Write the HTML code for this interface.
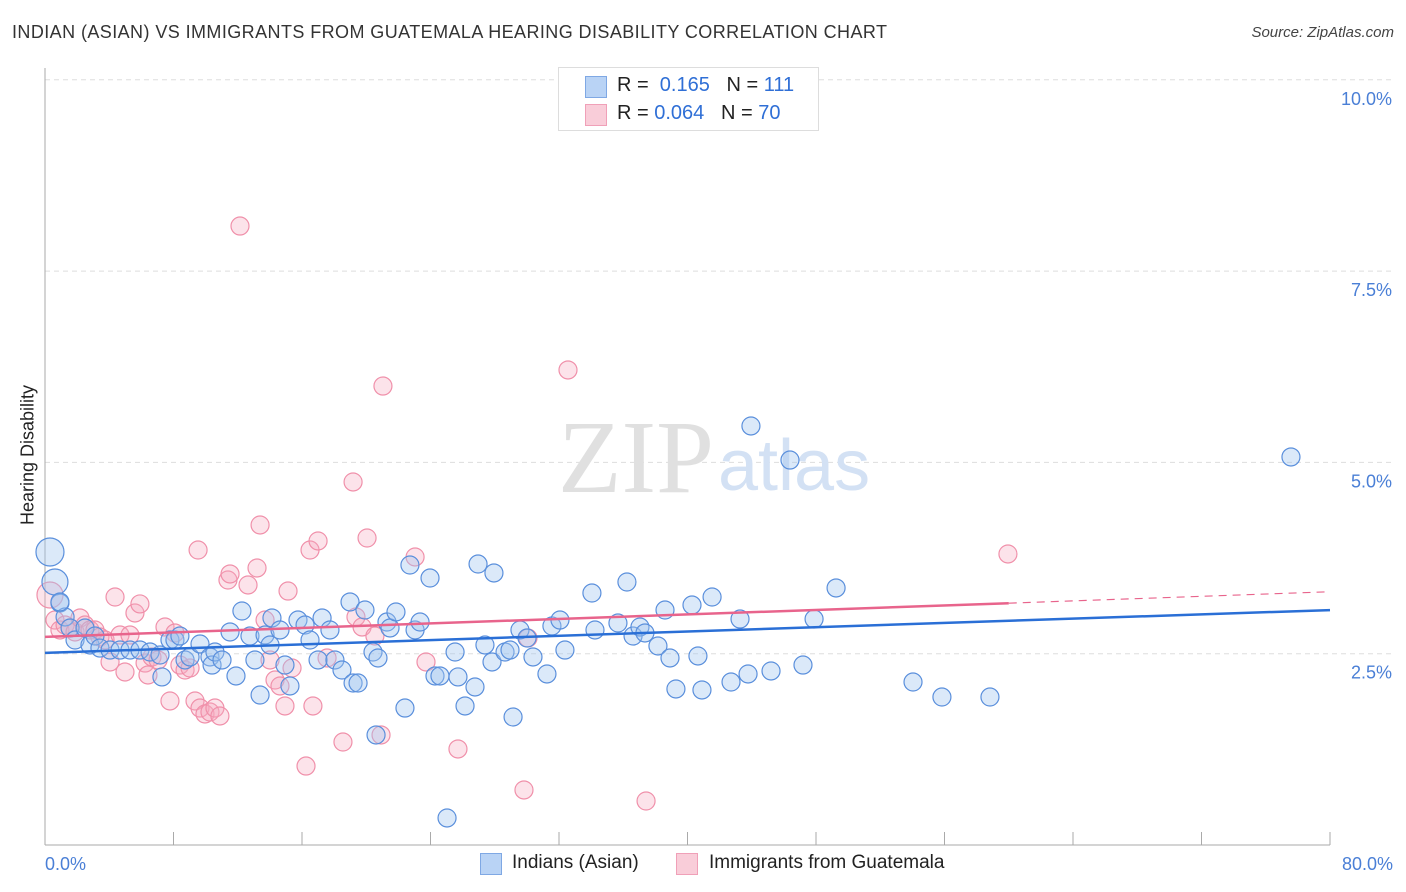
<!DOCTYPE html>
<html><head><meta charset="utf-8"><style>
body{margin:0;background:#fff;font-family:"Liberation Sans",sans-serif;}
#wrap{position:relative;width:1406px;height:892px;overflow:hidden;}
.t{position:absolute;white-space:nowrap;}
</style></head><body><div id="wrap">
<div class="t" style="left:12px;top:22px;font-size:18px;color:#333;letter-spacing:0.42px;">INDIAN (ASIAN) VS IMMIGRANTS FROM GUATEMALA HEARING DISABILITY CORRELATION CHART</div>
<div class="t" style="right:12px;top:24px;font-size:15px;color:#444;font-style:italic;">Source: ZipAtlas.com</div>
<svg id="plot" width="1406" height="892" style="position:absolute;left:0;top:0"></svg>
</div>
<script>
const xTicks=[0,80];
const yTicks=[2.5,5.0,7.5,10.0];
const bluePx=[[50,552,14],[55,582,13],[60,603],[65,617],[70,628],[75,640],[85,628],[90,645],[95,636],[100,648],[110,650],[120,650],[130,650],[140,650],[150,652],[160,655],[162,677],[170,640],[175,640],[180,636],[185,660],[190,657],[200,644],[210,657],[212,665],[215,652],[222,660],[230,632],[236,676],[242,611],[250,636],[255,660],[260,695],[265,635],[270,645],[272,618],[280,630],[285,665],[290,686],[298,620],[305,625],[310,640],[318,660],[322,618],[330,630],[335,660],[342,670],[350,602],[353,683],[358,683],[365,610],[373,652],[378,658],[387,622],[390,628],[396,612],[405,708],[410,565],[415,630],[420,622],[430,578],[435,676],[440,676],[447,818],[455,652],[458,677],[465,706],[475,687],[478,564],[485,645],[492,662],[494,573],[505,652],[510,650],[513,717],[520,630],[527,638],[533,657],[547,674],[552,626],[560,620],[565,650],[592,593],[595,630],[618,623],[627,582],[633,636],[640,627],[645,633],[658,646],[665,610],[670,658],[676,689],[692,605],[698,656],[702,690],[712,597],[731,682],[740,619],[748,674],[751,426],[771,671],[790,460],[803,665],[814,619],[836,588],[913,682],[942,697],[990,697],[1291,457],[376,735],[60,602]];
const pinkPx=[[50,595,13],[55,620],[60,630],[65,625],[70,628],[75,632],[80,618],[85,625],[90,630],[95,630],[100,637],[105,640],[110,662],[115,597],[120,635],[125,672],[130,635],[135,613],[140,604],[145,663],[148,675],[152,657],[158,660],[165,627],[170,701],[175,633],[180,665],[185,670],[190,668],[195,701],[198,550],[200,708],[205,714],[210,712],[215,708],[220,716],[228,580],[230,574],[240,226],[248,585],[257,568],[260,525],[265,620],[270,660],[275,680],[280,686],[285,706],[288,591],[292,668],[306,766],[310,550],[313,706],[318,541],[327,658],[343,742],[353,482],[356,617],[362,627],[367,538],[375,636],[381,735],[383,386],[415,557],[426,662],[458,749],[524,790],[528,638],[568,370],[646,801],[1008,554]];
const blueX=bluePx.map(p=>+((p[0]-45)/1285*80).toFixed(2));
const blueY=bluePx.map(p=>+((845-p[1])/191.3*2.5).toFixed(3));
const pinkX=pinkPx.map(p=>+((p[0]-45)/1285*80).toFixed(2));
const pinkY=pinkPx.map(p=>+((845-p[1])/191.3*2.5).toFixed(3));
const blueTrend=[[0,2.51],[80,3.07]];
const pinkTrend=[[0,2.72],[60,3.16],[80,3.31]];
const X=v=>45+v/80*1285, Y=v=>845-v/2.5*191.3;
const svg=document.getElementById('plot');const NS='http://www.w3.org/2000/svg';
function mk(tag,a,p){const e=document.createElementNS(NS,tag);for(const k in a)e.setAttribute(k,a[k]);(p||svg).appendChild(e);return e;}
yTicks.forEach(v=>{const l=mk('line',{x1:45,x2:1392,y1:Y(v),y2:Y(v),stroke:'#ddd','stroke-dasharray':'5,4'});


const t=mk('text',{x:1392,y:Y(v)+25,'text-anchor':'end','font-size':18,fill:'#4a7fd6','font-family':'Liberation Sans'});t.textContent=v.toFixed(1)+'%';

});
mk('line',{x1:45,x2:45,y1:68,y2:845,stroke:'#aaa'});
mk('line',{x1:45,x2:1330,y1:845,y2:845,stroke:'#aaa'});
for(let i=0;i<=10;i++){const x=X(i*8);const tk=mk('line',{x1:x,x2:x,y1:832,y2:845,stroke:'#aaa'});

}
xTicks.forEach((v,i)=>{const t=mk('text',{x:i?1393:45,y:870,'text-anchor':i?'end':'start','font-size':18,fill:'#4a7fd6','font-family':'Liberation Sans'});t.textContent=v.toFixed(1)+'%';

});
const wm=mk('text',{x:714,y:492,'text-anchor':'end','font-size':104,fill:'#e0e0e0','font-family':'Liberation Serif'});wm.textContent='ZIP';


const wm2=mk('text',{x:718,y:490,'font-size':72,fill:'#d3e1f4','font-family':'Liberation Sans'});wm2.textContent='atlas';


pinkX.forEach((x,i)=>{const c=mk('circle',{cx:X(x),cy:Y(pinkY[i]),r:pinkPx[i][2]||9,fill:'rgba(246,170,192,0.33)',stroke:'#f090aa','stroke-width':1.2});

});
blueX.forEach((x,i)=>{const c=mk('circle',{cx:X(x),cy:Y(blueY[i]),r:bluePx[i][2]||9,fill:'rgba(160,196,240,0.38)',stroke:'#5a8fdc','stroke-width':1.2});

});
const bl=mk('line',{x1:X(blueTrend[0][0]),y1:Y(blueTrend[0][1]),x2:X(blueTrend[1][0]),y2:Y(blueTrend[1][1]),stroke:'#2a6fd6','stroke-width':2.5});


const pl=mk('line',{x1:X(pinkTrend[0][0]),y1:Y(pinkTrend[0][1]),x2:X(pinkTrend[1][0]),y2:Y(pinkTrend[1][1]),stroke:'#e8648c','stroke-width':2.5});


const pd=mk('line',{x1:X(pinkTrend[1][0]),y1:Y(pinkTrend[1][1]),x2:X(pinkTrend[2][0]),y2:Y(pinkTrend[2][1]),stroke:'#e8648c','stroke-width':1.2,'stroke-dasharray':'8,6'});


</script>
<div class="t" style="left:28px;top:455px;font-size:18px;color:#222;transform:translate(-50%,-50%) rotate(-90deg);">Hearing Disability</div>
<div style="position:absolute;left:558px;top:67px;width:259px;height:62px;border:1px solid #ddd;background:#fff;font-size:20px;color:#222;">
<div style="position:absolute;left:26px;top:8px;width:20px;height:20px;background:#b9d3f5;border:1px solid #7fa8e4;"></div>
<div class="t" style="left:58px;top:6px;">R = &nbsp;<span style="color:#2f6fd6">0.165</span> &nbsp;&nbsp;N = <span style="color:#2f6fd6">111</span></div>
<div style="position:absolute;left:26px;top:36px;width:20px;height:20px;background:#f9cdd9;border:1px solid #f0a0b8;"></div>
<div class="t" style="left:58px;top:34px;">R = <span style="color:#2f6fd6">0.064</span> &nbsp;&nbsp;N = <span style="color:#2f6fd6">70</span></div>
</div>
<div style="position:absolute;left:480px;top:852px;font-size:19px;color:#222;">
<div style="position:absolute;left:0;top:1px;width:20px;height:20px;background:#b9d3f5;border:1px solid #7fa8e4;"></div>
<div class="t" style="left:32px;top:0;">Indians (Asian)</div>
<div style="position:absolute;left:196px;top:1px;width:20px;height:20px;background:#f9cdd9;border:1px solid #f0a0b8;"></div>
<div class="t" style="left:229px;top:0;">Immigrants from Guatemala</div>
</div>
</body></html>
